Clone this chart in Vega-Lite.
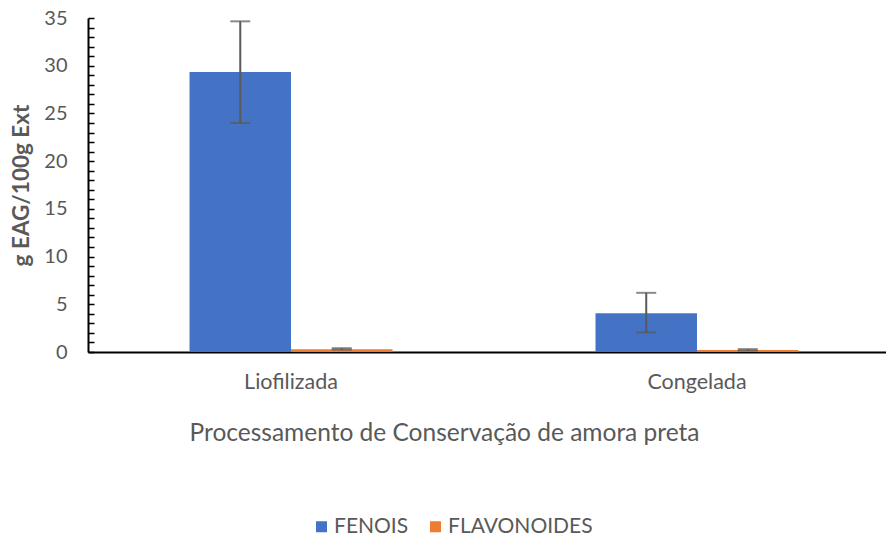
{
  "$schema": "https://vega.github.io/schema/vega-lite/v6.json",
  "autosize": "none",
  "width": 798,
  "height": 334,
  "padding": {"left": 88, "top": 18, "right": 0, "bottom": 185},
  "background": "white",
  "config": {"view": {"stroke": null}, "font": "Lato"},
  "data": {"values": [
    {"cat": "Liofilizada", "serie": "FENOIS", "valor": 29.35, "min": 24.0, "max": 34.65},
    {"cat": "Liofilizada", "serie": "FLAVONOIDES", "valor": 0.3, "min": 0.25, "max": 0.4},
    {"cat": "Congelada", "serie": "FENOIS", "valor": 4.05, "min": 2.05, "max": 6.2},
    {"cat": "Congelada", "serie": "FLAVONOIDES", "valor": 0.2, "min": 0.15, "max": 0.3}
  ]},
  "encoding": {
    "x": {"field": "cat", "type": "nominal", "sort": ["Liofilizada", "Congelada"],
      "scale": {"paddingInner": 0.5, "paddingOuter": 0.2328, "align": 0.537},
      "axis": {"title": "Processamento de Conservação de amora preta", "titleFontSize": 24.5, "titleFontWeight": "normal", "titleColor": "#595959", "titlePadding": 29, "titleX": 356,
        "labelFontSize": 21.5, "labelColor": "#595959", "labelAngle": 0, "labelPadding": 19, "ticks": false, "domainColor": "black", "domainWidth": 2}},
    "xOffset": {"field": "serie", "type": "nominal", "scale": {"domain": ["FENOIS", "FLAVONOIDES"], "paddingInner": 0, "paddingOuter": 0}}
  },
  "layer": [
    {"mark": {"type": "bar"},
     "encoding": {
       "y": {"field": "valor", "type": "quantitative", "scale": {"domain": [0, 35], "nice": false},
         "axis": {"title": "g EAG/100g Ext", "titleFontSize": 22.5, "titleFontWeight": "bold", "titleColor": "#595959", "titlePadding": 10,
           "values": [0,1,2,3,4,5,6,7,8,9,10,11,12,13,14,15,16,17,18,19,20,21,22,23,24,25,26,27,28,29,30,31,32,33,34,35],
           "labelExpr": "datum.value % 5 == 0 ? datum.label : ''", "labelOverlap": false, "labelFontSize": 20, "labelColor": "#595959", "labelPadding": 27,
           "tickSize": -6, "tickColor": "black", "tickWidth": 1.5, "domainColor": "black", "domainWidth": 2, "grid": false}},
       "color": {"field": "serie", "type": "nominal", "scale": {"domain": ["FENOIS", "FLAVONOIDES"], "range": ["#4472C4", "#ED7D31"]},
         "legend": {"title": null, "orient": "none", "legendX": 223, "legendY": 498, "direction": "horizontal", "symbolType": "square", "symbolSize": 121, "symbolStrokeWidth": 0, "labelFontSize": 21, "labelColor": "#595959", "columnPadding": 16, "labelOffset": 2}}
     }},
    {"mark": {"type": "rule", "color": "#595959", "strokeWidth": 2},
     "encoding": {"y": {"field": "min", "type": "quantitative", "scale": {"domain": [0, 35], "nice": false},
         "axis": {"title": "g EAG/100g Ext", "titleFontSize": 22.5, "titleFontWeight": "bold", "titleColor": "#595959", "titlePadding": 10,
           "values": [0,1,2,3,4,5,6,7,8,9,10,11,12,13,14,15,16,17,18,19,20,21,22,23,24,25,26,27,28,29,30,31,32,33,34,35],
           "labelExpr": "datum.value % 5 == 0 ? datum.label : ''", "labelOverlap": false, "labelFontSize": 20, "labelColor": "#595959", "labelPadding": 27,
           "tickSize": -6, "tickColor": "black", "tickWidth": 1.5, "domainColor": "black", "domainWidth": 2, "grid": false}},
       "y2": {"field": "max"}}},
    {"mark": {"type": "tick", "color": "#595959", "thickness": 2, "size": 20},
     "encoding": {"y": {"field": "min", "type": "quantitative", "scale": {"domain": [0, 35], "nice": false},
         "axis": {"title": "g EAG/100g Ext", "titleFontSize": 22.5, "titleFontWeight": "bold", "titleColor": "#595959", "titlePadding": 10,
           "values": [0,1,2,3,4,5,6,7,8,9,10,11,12,13,14,15,16,17,18,19,20,21,22,23,24,25,26,27,28,29,30,31,32,33,34,35],
           "labelExpr": "datum.value % 5 == 0 ? datum.label : ''", "labelOverlap": false, "labelFontSize": 20, "labelColor": "#595959", "labelPadding": 27,
           "tickSize": -6, "tickColor": "black", "tickWidth": 1.5, "domainColor": "black", "domainWidth": 2, "grid": false}}}},
    {"mark": {"type": "tick", "color": "#595959", "thickness": 2, "size": 20},
     "encoding": {"y": {"field": "max", "type": "quantitative", "scale": {"domain": [0, 35], "nice": false},
         "axis": {"title": "g EAG/100g Ext", "titleFontSize": 22.5, "titleFontWeight": "bold", "titleColor": "#595959", "titlePadding": 10,
           "values": [0,1,2,3,4,5,6,7,8,9,10,11,12,13,14,15,16,17,18,19,20,21,22,23,24,25,26,27,28,29,30,31,32,33,34,35],
           "labelExpr": "datum.value % 5 == 0 ? datum.label : ''", "labelOverlap": false, "labelFontSize": 20, "labelColor": "#595959", "labelPadding": 27,
           "tickSize": -6, "tickColor": "black", "tickWidth": 1.5, "domainColor": "black", "domainWidth": 2, "grid": false}}}}
  ]
}
